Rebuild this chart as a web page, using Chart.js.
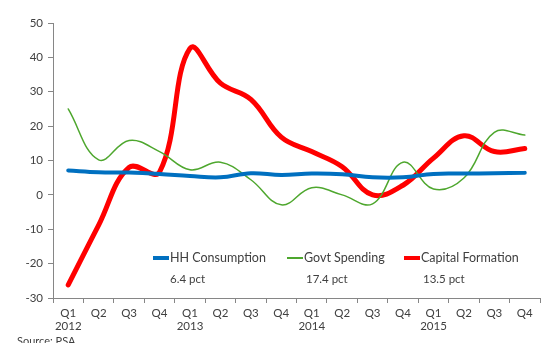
<!DOCTYPE html>
<html>
<head>
<meta charset="utf-8">
<script src="https://cdn.jsdelivr.net/npm/chart.js@4"></script>
<style>
  html, body { margin: 0; padding: 0; background: #fff; }
  #wrap { width: 544px; height: 343px; position: relative; }
</style>
</head>
<body>
<div id="wrap"><canvas id="growth-chart" width="544" height="343"></canvas></div>
<script>
// Quarterly labels, year shown under each Q1
const quarters = [
    ['Q1', '2012'], 'Q2', 'Q3', 'Q4',
    ['Q1', '2013'], 'Q2', 'Q3', 'Q4',
    ['Q1', '2014'], 'Q2', 'Q3', 'Q4',
    ['Q1', '2015'], 'Q2', 'Q3', 'Q4'
];

// Year-on-year growth, pct
const hhConsumption = [7.1, 6.6, 6.5, 6.1, 5.5, 5.1, 6.3, 5.8, 6.2, 6.0, 5.1, 5.1, 6.1, 6.2, 6.3, 6.4];
const govtSpending = [25.0, 10.2, 15.8, 12.6, 7.3, 9.5, 4.4, -2.9, 2.1, 0.0, -2.6, 9.5, 1.7, 4.9, 18.2, 17.4];
const capitalFormation = [-26.2, -8.8, 8.0, 6.6, 42.6, 32.5, 27.8, 16.8, 12.6, 8.2, 0.0, 2.8, 10.7, 17.2, 12.6, 13.5];

const seriesNames = ['HH Consumption', 'Govt Spending', 'Capital Formation'];
const seriesColors = ['#0070C0', '#4EA72E', '#FF0000'];
const seriesWidths = [4, 1.5, 5];

const yTicks = { min: -30, max: 50, step: 10 };

const textColor = '#404040';
const axisColor = '#868686';
const fontFamily = 'Lato, "Open Sans", sans-serif';

// Legend sits inside the plot, with the latest value printed under each entry
const inlineLegend = {
    id: 'inlineLegend',
    afterDraw(chart) {
        const ctx = chart.ctx;
        const xs = [153, 287, 404];
        const y = 258;
        ctx.save();
        ctx.textBaseline = 'middle';
        ctx.textAlign = 'left';
        chart.data.datasets.forEach((ds, i) => {
            ctx.strokeStyle = ds.borderColor;
            ctx.lineWidth = i === 1 ? 2 : 4;
            ctx.beginPath();
            ctx.moveTo(xs[i], y);
            ctx.lineTo(xs[i] + 16, y);
            ctx.stroke();
            ctx.fillStyle = textColor;
            ctx.font = '12.5px ' + fontFamily;
            ctx.fillText(ds.label, xs[i] + 17, y);
            const last = ds.data[ds.data.length - 1];
            ctx.font = '11.5px ' + fontFamily;
            ctx.fillText(last.toFixed(1) + ' pct', xs[i] + 17 + (i === 0 ? 0 : 2), y + 21);
        });
        // Source note, partly below the edge
        ctx.font = '11px ' + fontFamily;
        ctx.textBaseline = 'top';
        ctx.fillText('Source: PSA', 17, 336);
        ctx.restore();
    }
};

const ctx = document.getElementById('growth-chart').getContext('2d');
new Chart(ctx, {
    type: 'line',
    data: {
        labels: quarters,
        datasets: [hhConsumption, govtSpending, capitalFormation].map((values, i) => ({
            label: seriesNames[i],
            data: values,
            borderColor: seriesColors[i],
            backgroundColor: seriesColors[i],
            borderWidth: seriesWidths[i],
            pointRadius: 0,
            tension: 0.4,
            fill: false,
            borderCapStyle: 'round',
            borderJoinStyle: 'round'
        }))
    },
    options: {
        responsive: false,
        animation: false,
        layout: { padding: { top: 23, right: 4, left: 0, bottom: 0 } },
        plugins: {
            legend: { display: false },
            tooltip: { enabled: false }
        },
        scales: {
            x: {
                offset: true,
                grid: {
                    offset: true,
                    drawOnChartArea: false,
                    tickLength: 5,
                    color: axisColor
                },
                border: { color: axisColor, width: 1 },
                ticks: {
                    color: textColor,
                    font: { family: fontFamily, size: 11.5 },
                    maxRotation: 0,
                    autoSkip: false,
                    padding: 3
                },
                afterFit(scale) { scale.height = 45; }
            },
            y: {
                min: yTicks.min,
                max: yTicks.max,
                grid: {
                    drawOnChartArea: false,
                    tickLength: 5,
                    color: axisColor
                },
                border: { color: axisColor, width: 1 },
                ticks: {
                    stepSize: yTicks.step,
                    color: textColor,
                    font: { family: fontFamily, size: 11.5 },
                    padding: 5
                },
                afterFit(scale) { scale.width = 53; }
            }
        }
    },
    plugins: [inlineLegend]
});
</script>
</body>
</html>
